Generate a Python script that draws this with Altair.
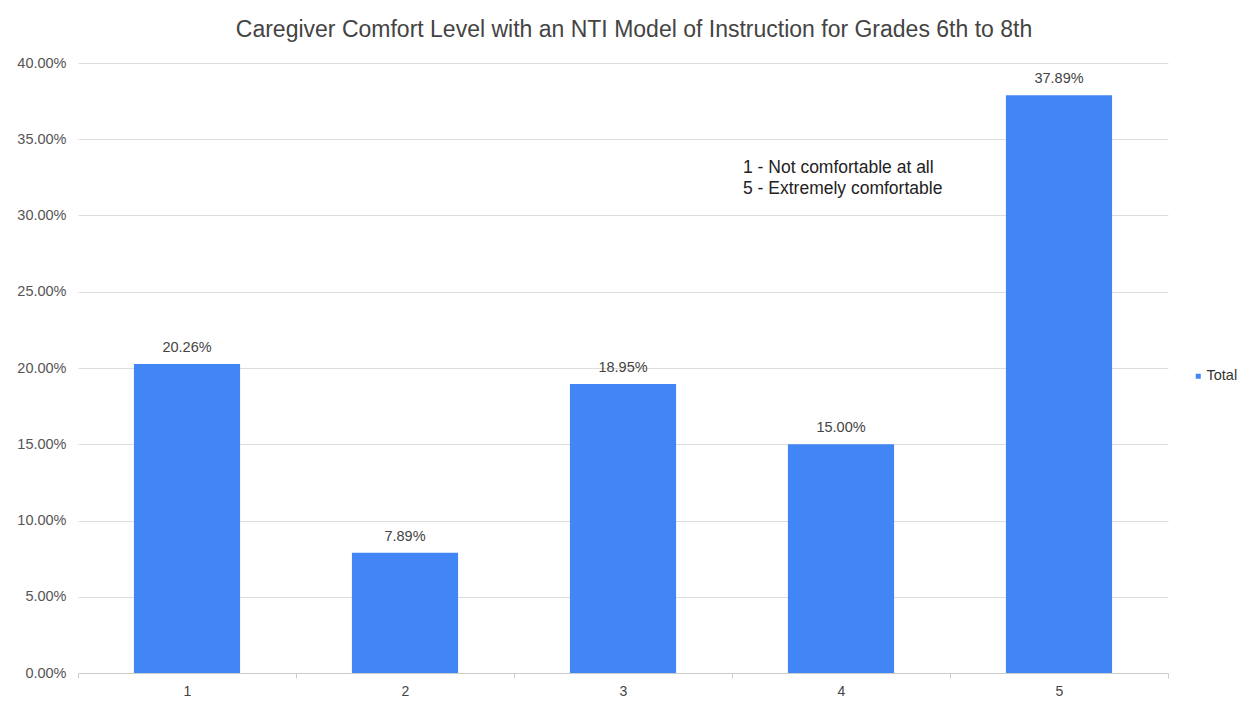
import altair as alt
import pandas as pd

categories = ["1", "2", "3", "4", "5"]
values = [0.2026, 0.0789, 0.1895, 0.1500, 0.3789]
series = ["Total"] * 5
title_text = "Caregiver Comfort Level with  an NTI Model of Instruction for Grades 6th to 8th"
note_lines = ["1 - Not comfortable at all", "5 - Extremely comfortable"]

df = pd.DataFrame({"cat": categories, "val": values, "series": series})

FONT = "Liberation Sans"

base = alt.Chart(df)

bars = base.mark_bar(color="#4285F4", width=alt.RelativeBandSize(0.487)).encode(
    x=alt.X("cat:N", title=None,
            scale=alt.Scale(paddingInner=0, paddingOuter=0),
            axis=alt.Axis(labelAngle=0, labelFontSize=14, labelColor="#444444",
                          labelFont=FONT, labelPadding=6,
                          tickBand="extent", tickColor="#cccccc", tickSize=5,
                          domainColor="#cccccc", grid=False)),
    y=alt.Y("val:Q", title=None,
            scale=alt.Scale(domain=[0, 0.40]),
            axis=alt.Axis(format=".2%", values=[i * 0.05 for i in range(9)],
                          labelFontSize=14.5, labelColor="#555555", labelFont=FONT,
                          labelPadding=12, tickSize=0, domain=False,
                          gridColor="#dddddd")),
    color=alt.Color("series:N", title=None,
                    scale=alt.Scale(range=["#4285F4"]),
                    legend=alt.Legend(orient="none", legendX=1113, legendY=306,
                                      symbolType="square", symbolSize=25,
                                      labelOffset=1,
                                      labelFontSize=14.5, labelColor="#333333",
                                      labelFont=FONT, symbolStrokeWidth=0)),
)

labels = base.mark_text(dy=-9, fontSize=14.5, color="#444444", font=FONT,
                        baseline="bottom").encode(
    x="cat:N",
    y="val:Q",
    text=alt.Text("val:Q", format=".2%"),
)

note = alt.Chart(pd.DataFrame({"k": [0]})).mark_text(
    align="left", baseline="middle", fontSize=17.5, color="#222222", font=FONT,
    lineHeight=21
).encode(
    x=alt.value(665),
    y=alt.value(105),
    text=alt.value(note_lines),
)

chart = alt.layer(bars, labels, note).properties(
    width=1090,
    height=610,
    title=alt.TitleParams(title_text, fontSize=23, color="#444444", font=FONT,
                          fontWeight="normal", anchor="middle", offset=13, dx=11),
    autosize=alt.AutoSizeParams(type="none"),
    padding={"left": 70, "top": 55, "right": 76, "bottom": 26},
).configure_view(stroke=None)

chart.save("out.html", embed_options={"renderer": "svg", "actions": False})
